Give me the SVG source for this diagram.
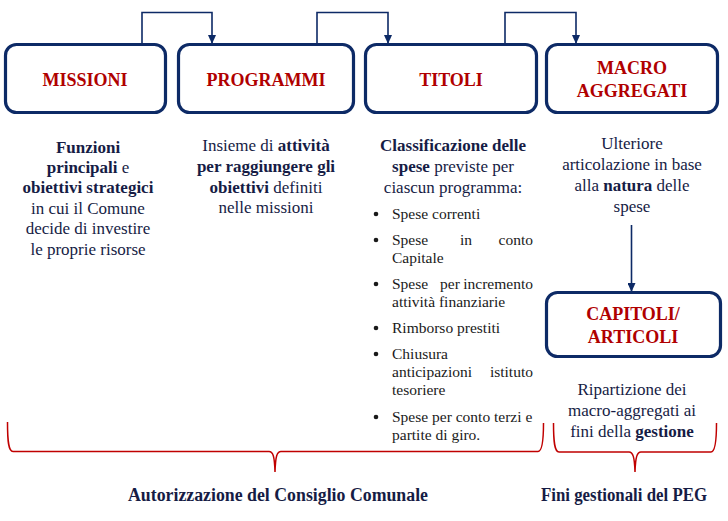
<svg xmlns="http://www.w3.org/2000/svg" width="728" height="521" viewBox="0 0 728 521">
<style>
.box{fill:#fff;stroke:#0d2a66;stroke-width:3.2}
.ttl{font-family:'Liberation Serif',serif;font-weight:bold;font-size:18px;fill:#b00000;text-anchor:middle}
.desc{font-family:'Liberation Serif',serif;font-size:17px;fill:#161c45;text-anchor:middle}
.bul{font-family:'Liberation Serif',serif;font-size:15.5px;fill:#1a1a1a}
.dot{fill:#1a1a1a}
.b{font-weight:bold}
.con{fill:none;stroke:#0d2a66;stroke-width:1.6}
.brace{fill:none;stroke:#c00000;stroke-width:1.5}
.foot{font-family:'Liberation Serif',serif;font-weight:bold;font-size:18px;fill:#161c45;text-anchor:middle}
</style>
<defs>
<marker id="ah" viewBox="0 0 10 10" refX="10" refY="5" markerWidth="9" markerHeight="8" orient="auto" markerUnits="userSpaceOnUse" preserveAspectRatio="none">
<path d="M0,0 L10,5 L0,10 z" fill="#0d2a66"/>
</marker>
</defs>
<rect width="728" height="521" fill="#fff"/>

<g id="connectors">
<path class="con" d="M142,43 V12.5 H212 V44" marker-end="url(#ah)"/>
<path class="con" d="M317,43 V12.5 H388 V44" marker-end="url(#ah)"/>
<path class="con" d="M505,43 V12.5 H576 V44" marker-end="url(#ah)"/>
<path class="con" d="M631.5,225 V292" marker-end="url(#ah)"/>
</g>

<g id="missioni">
<rect class="box" x="5.5" y="44.5" width="160" height="68" rx="11"/>
<text class="ttl" x="85" y="86">MISSIONI</text>
</g>
<g id="programmi">
<rect class="box" x="178.5" y="44.5" width="175" height="68" rx="11"/>
<text class="ttl" x="266" y="86">PROGRAMMI</text>
</g>
<g id="titoli">
<rect class="box" x="365.5" y="44.5" width="171" height="68" rx="11"/>
<text class="ttl" x="451" y="86">TITOLI</text>
</g>
<g id="macro">
<rect class="box" x="546.5" y="44.5" width="171" height="68" rx="11"/>
<text class="ttl" x="632" y="74">MACRO</text>
<text class="ttl" x="632" y="97">AGGREGATI</text>
</g>
<g id="capitoli">
<rect class="box" x="546.5" y="292.5" width="174" height="64" rx="11"/>
<text class="ttl" x="633" y="320">CAPITOLI/</text>
<text class="ttl" x="633" y="343">ARTICOLI</text>
</g>

<g id="desc-missioni">
<text class="desc" x="88" y="153"><tspan class="b">Funzioni</tspan></text>
<text class="desc" x="88" y="173"><tspan class="b">principali</tspan> e</text>
<text class="desc" x="88" y="193"><tspan class="b">obiettivi strategici</tspan></text>
<text class="desc" x="88" y="214">in cui il Comune</text>
<text class="desc" x="88" y="234">decide di investire</text>
<text class="desc" x="88" y="255">le proprie risorse</text>
</g>
<g id="desc-programmi">
<text class="desc" x="266" y="151">Insieme di <tspan class="b">attività</tspan></text>
<text class="desc" x="266" y="172"><tspan class="b">per raggiungere gli</tspan></text>
<text class="desc" x="266" y="193"><tspan class="b">obiettivi</tspan> definiti</text>
<text class="desc" x="266" y="213">nelle missioni</text>
</g>
<g id="desc-titoli">
<text class="desc" x="453" y="151"><tspan class="b">Classificazione delle</tspan></text>
<text class="desc" x="453" y="172"><tspan class="b">spese</tspan> previste per</text>
<text class="desc" x="453" y="193">ciascun programma:</text>
<g class="dot">
<circle cx="376" cy="214" r="2.3"/>
<circle cx="376" cy="240" r="2.3"/>
<circle cx="376" cy="284" r="2.3"/>
<circle cx="376" cy="328" r="2.3"/>
<circle cx="376" cy="354" r="2.3"/>
<circle cx="376" cy="417" r="2.3"/>
</g>
<g class="bul">
<text x="392" y="219">Spese correnti</text>
<text x="392" y="245">Spese</text>
<text x="460" y="245">in</text>
<text x="533" y="245" text-anchor="end">conto</text>
<text x="392" y="263">Capitale</text>
<text x="392" y="289">Spese</text>
<text x="440" y="289">per</text>
<text x="533" y="289" text-anchor="end">incremento</text>
<text x="392" y="307">attività finanziarie</text>
<text x="392" y="333">Rimborso prestiti</text>
<text x="392" y="359">Chiusura</text>
<text x="392" y="377">anticipazioni</text>
<text x="533" y="377" text-anchor="end">istituto</text>
<text x="392" y="395">tesoriere</text>
<text x="392" y="422">Spese per conto terzi e</text>
<text x="392" y="440">partite di giro.</text>
</g>
</g>
<g id="desc-macro">
<text class="desc" x="632" y="149">Ulteriore</text>
<text class="desc" x="632" y="170">articolazione in base</text>
<text class="desc" x="632" y="191">alla <tspan class="b">natura</tspan> delle</text>
<text class="desc" x="632" y="212">spese</text>
</g>
<g id="desc-capitoli">
<text class="desc" x="632" y="395">Ripartizione dei</text>
<text class="desc" x="632" y="416">macro-aggregati ai</text>
<text class="desc" x="632" y="437">fini della <tspan class="b">gestione</tspan></text>
</g>

<g id="braces">
<path class="brace" d="M7.5,422 C7.5,442 8.5,451.5 13,451.5 L269,451.5 C273,451.5 274.5,456 275,472 C275.5,456 277,451.5 281,451.5 L538,451.5 C542,451.5 543.5,442 543.5,423"/>
<path class="brace" d="M553.5,423 C553.5,442 554.5,452 559,452 L629,452 C633,452 634.5,457 635,472 C635.5,457 637,452 641,452 L711,452 C715,452 716.5,442 716.5,423"/>
</g>
<g id="foot-autorizzazione">
<text class="foot" x="278" y="501" textLength="300" lengthAdjust="spacingAndGlyphs">Autorizzazione del Consiglio Comunale</text>
</g>
<g id="foot-peg">
<text class="foot" x="624" y="501" textLength="166" lengthAdjust="spacingAndGlyphs">Fini gestionali del PEG</text>
</g>
</svg>
